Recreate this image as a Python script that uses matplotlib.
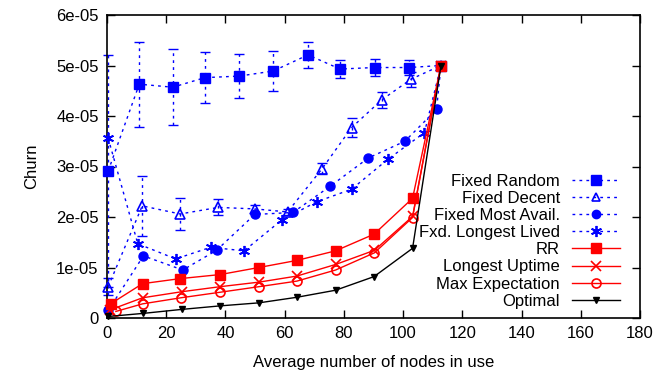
import numpy as np
import matplotlib
matplotlib.use('Agg')
import matplotlib.pyplot as plt
from matplotlib.lines import Line2D

plt.rcParams['font.family'] = ['Liberation Sans', 'DejaVu Sans']

# Fixed Random (with error bars)
fr_x = [0.4, 10.9, 22.2, 33.1, 44.6, 56.1, 67.9, 78.7, 90.4, 102.0, 112.8]
fr_y = [2.91, 4.63, 4.57, 4.76, 4.79, 4.89, 5.21, 4.93, 4.96, 4.96, 5.00]
fr_e = [2.30, 0.84, 0.75, 0.51, 0.44, 0.39, 0.26, 0.17, 0.17, 0.15, 0.03]

# Fixed Decent (with error bars)
fd_x = [0.4, 11.9, 24.7, 37.6, 50.0, 61.0, 72.7, 82.6, 92.8, 102.7, 112.8]
fd_y = [0.62, 2.22, 2.06, 2.19, 2.16, 2.10, 2.96, 3.77, 4.32, 4.73, 5.00]
fd_e = [0.17, 0.60, 0.31, 0.16, 0.08, 0.06, 0.10, 0.19, 0.16, 0.15, 0.03]

fma_x = [0.4, 12.3, 25.6, 37.0, 49.9, 62.8, 75.4, 88.3, 100.6, 111.3, 112.8]
fma_y = [0.15, 1.23, 0.95, 1.34, 2.05, 2.09, 2.61, 3.17, 3.50, 4.13, 5.00]

fll_x = [0.4, 10.4, 23.2, 35.0, 46.3, 59.0, 70.8, 82.6, 94.8, 107.2, 112.8]
fll_y = [3.56, 1.47, 1.17, 1.40, 1.33, 1.94, 2.30, 2.55, 3.14, 3.67, 5.00]

rr_x = [1.2, 12.0, 24.7, 38.2, 51.3, 64.1, 77.2, 90.2, 103.2, 112.8]
rr_y = [0.28, 0.68, 0.78, 0.86, 1.00, 1.14, 1.33, 1.66, 2.37, 5.00]

lu_x = [1.0, 12.0, 25.2, 38.2, 51.3, 64.1, 77.2, 90.3, 103.2, 112.8]
lu_y = [0.16, 0.40, 0.52, 0.62, 0.71, 0.83, 1.06, 1.34, 2.01, 5.00]

me_x = [3.0, 12.0, 24.9, 38.2, 51.3, 64.1, 77.2, 90.3, 103.2, 112.8]
me_y = [0.13, 0.28, 0.40, 0.51, 0.62, 0.73, 0.95, 1.29, 1.99, 5.00]

opt_x = [0.4, 12.0, 25.2, 38.2, 51.3, 64.1, 77.2, 90.2, 103.2, 112.8]
opt_y = [0.03, 0.09, 0.17, 0.24, 0.30, 0.41, 0.55, 0.82, 1.38, 5.00]

scale = 1e-5
blue = '#0000ff'
red = '#ff0000'
dots = (0, (2, 3))

fig = plt.figure(figsize=(6.58, 3.75), dpi=100)
ax = fig.add_axes([0.1626, 0.152, 0.81, 0.808])

def errs(x, y, e):
    eb = ax.errorbar(x, np.array(y) * scale, yerr=np.array(e) * scale, fmt='none',
                     ecolor=blue, elinewidth=1, capsize=3.5, capthick=1)
    eb[2][0].set_linestyle(dots)
    eb[2][0].set_clip_on(False)
    for c in eb[1]:
        c.set_clip_on(False)

errs(fr_x, fr_y, fr_e)
errs(fd_x, fd_y, fd_e)

kw = dict(clip_on=False, zorder=3)
ax.plot(fr_x, np.array(fr_y) * scale, color=blue, ls=dots, lw=1, marker='s', ms=7, mfc=blue, mec=blue, **kw)
ax.plot(fd_x, np.array(fd_y) * scale, color=blue, ls=dots, lw=1, marker='^', ms=6.5, mfc='none', mec=blue, mew=1.2, **kw)
ax.plot(fma_x, np.array(fma_y) * scale, color=blue, ls=dots, lw=1, marker='o', ms=6.5, mfc=blue, mec=blue, **kw)
ax.plot(fll_x, np.array(fll_y) * scale, color=blue, ls=dots, lw=1, marker=(6, 2, 0), ms=8, mec=blue, mew=1.3, **kw)
ax.plot(rr_x, np.array(rr_y) * scale, color=red, lw=1, marker='s', ms=6.5, mfc=red, mec=red, **kw)
ax.plot(lu_x, np.array(lu_y) * scale, color=red, lw=1, marker='x', ms=6.5, mec=red, mew=1.2, **kw)
ax.plot(me_x, np.array(me_y) * scale, color=red, lw=1, marker='o', ms=6.5, mfc='none', mec=red, mew=1.2, **kw)
ax.plot(opt_x, np.array(opt_y) * scale, color='black', lw=1, marker='v', ms=5, mfc='black', mec='black', **kw)

ax.set_xlim(0, 180)
ax.set_ylim(0, 6e-5)
ax.set_xticks(np.arange(0, 181, 20))
ax.set_yticks(np.arange(0, 7) * 1e-5)
ax.set_yticklabels(['0', '1e-05', '2e-05', '3e-05', '4e-05', '5e-05', '6e-05'])
ax.tick_params(direction='in', length=6, width=1, top=True, right=True, labelsize=12, pad=6)
for s in ax.spines.values():
    s.set_linewidth(1.2)
ax.set_xlabel('Average number of nodes in use', fontsize=12, labelpad=10)
ax.set_ylabel('Churn', fontsize=12, labelpad=12)

handles = [
    Line2D([], [], color=blue, ls=dots, lw=1, marker='s', ms=7, mfc=blue, mec=blue),
    Line2D([], [], color=blue, ls=dots, lw=1, marker='^', ms=6, mfc='none', mec=blue, mew=1.2),
    Line2D([], [], color=blue, ls=dots, lw=1, marker='o', ms=6, mfc=blue, mec=blue),
    Line2D([], [], color=blue, ls=dots, lw=1, marker=(6, 2, 0), ms=8, mec=blue, mew=1.3),
    Line2D([], [], color=red, lw=1, marker='s', ms=6.5, mfc=red, mec=red),
    Line2D([], [], color=red, lw=1, marker='x', ms=6.5, mec=red, mew=1.2),
    Line2D([], [], color=red, lw=1, marker='o', ms=6.5, mfc='none', mec=red, mew=1.2),
    Line2D([], [], color='black', lw=1, marker='v', ms=5, mfc='black', mec='black'),
]
labels = ['Fixed Random', 'Fixed Decent', 'Fixed Most Avail.', 'Fxd. Longest Lived',
          'RR', 'Longest Uptime', 'Max Expectation', 'Optimal']
leg = fig.legend(handles, labels, loc='upper right', bbox_to_anchor=(0.942, 0.537),
                 bbox_transform=fig.transFigure, frameon=False, markerfirst=False,
                 fontsize=12, handlelength=2.9, handletextpad=0.7, labelspacing=0.13,
                 borderpad=0, borderaxespad=0)
for t in leg.get_texts():
    t.set_ha('right')
leg._legend_box.align = 'right'

fig.savefig('out.png', dpi=100)
